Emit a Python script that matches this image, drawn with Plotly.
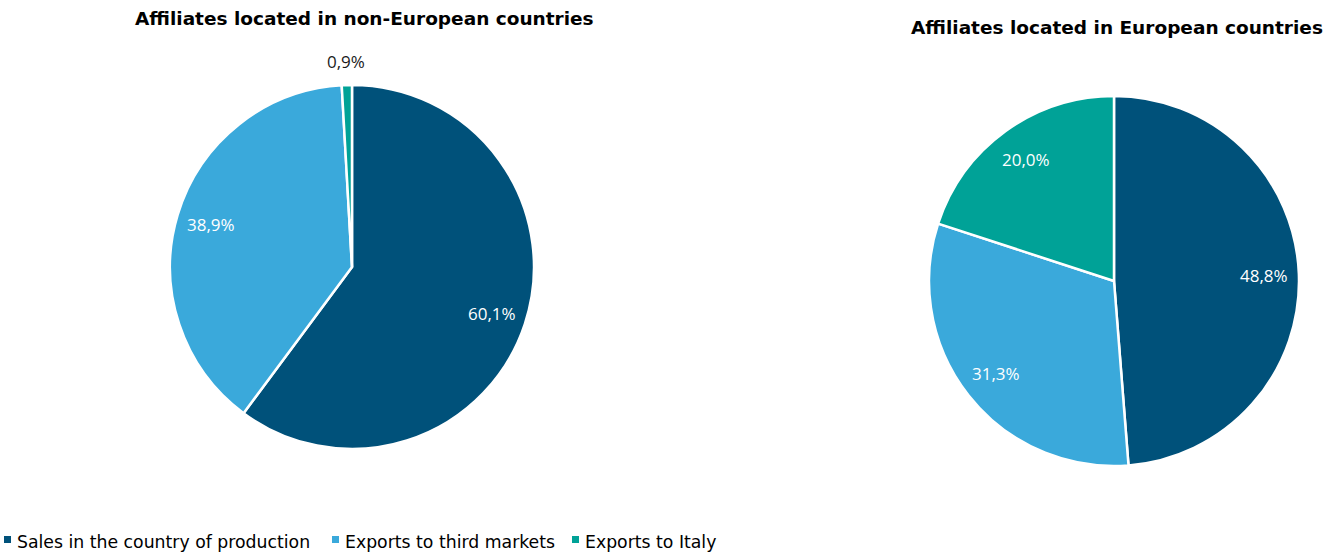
import math
import plotly.graph_objects as go

# Categories and shares (%) for each group of affiliates
categories = ["Sales in the country of production", "Exports to third markets", "Exports to Italy"]
non_european = [60.1, 38.9, 0.9]
european = [48.8, 31.3, 20.0]
titles = ["Affiliates located in non-European countries", "Affiliates located in European countries"]
colors = ["#00517A", "#3AA9DB", "#00A297"]

W, H = 1325, 554

# Pie centres and radii in pixels, plus title placement
pies = [
    dict(values=non_european, cx=352, cy=267, r=182, title=titles[0], tx=364, ty=18,
         outside=[False, False, True]),
    dict(values=european, cx=1114, cy=281, r=185, title=titles[1], tx=1117, ty=27,
         outside=[False, False, False]),
]


def px(x):
    return x / W


def py(y):
    return 1 - y / H


def fmt(v):
    return f"{v:.1f}".replace(".", ",") + "%"


fig = go.Figure()
annotations = []

for p in pies:
    cx, cy, r = p["cx"], p["cy"], p["r"]
    fig.add_trace(go.Pie(
        labels=categories,
        values=p["values"],
        sort=False,
        direction="clockwise",
        rotation=0,
        marker=dict(colors=colors, line=dict(color="white", width=2.5)),
        textinfo="none",
        hoverinfo="label+percent",
        showlegend=False,
        domain=dict(x=[px(cx - r), px(cx + r)], y=[py(cy + r), py(cy - r)]),
    ))
    # value labels at each slice's mid-angle
    total = sum(p["values"])
    cum = 0.0
    for v, out in zip(p["values"], p["outside"]):
        mid = (cum + v / 2) / total * 2 * math.pi
        cum += v
        rr = r * (1.13 if out else 0.81)
        lx = cx + rr * math.sin(mid)
        ly = cy - rr * math.cos(mid)
        annotations.append(dict(
            x=px(lx), y=py(ly), xref="paper", yref="paper",
            text=fmt(v), showarrow=False,
            font=dict(family="Open Sans", size=17, color="#1a1a1a" if out else "white"),
            xanchor="center", yanchor="middle",
        ))
    annotations.append(dict(
        x=px(p["tx"]), y=py(p["ty"]), xref="paper", yref="paper",
        text=f"<b>{p['title']}</b>", showarrow=False,
        font=dict(family="DejaVu Sans", size=18.5, color="black"),
        xanchor="center", yanchor="middle",
    ))

# Legend row along the bottom
legend_x = [4, 332, 572]
shapes = []
for name, col, lx in zip(categories, colors, legend_x):
    shapes.append(dict(type="rect", xref="paper", yref="paper",
                       x0=px(lx), x1=px(lx + 7), y0=py(543), y1=py(536),
                       fillcolor=col, line=dict(width=0)))
    annotations.append(dict(
        x=px(lx + 11), y=py(542), xref="paper", yref="paper",
        text=name, showarrow=False,
        font=dict(family="DejaVu Sans", size=17.3, color="black"),
        xanchor="left", yanchor="middle",
    ))

fig.update_layout(
    width=W, height=H,
    margin=dict(l=0, r=0, t=0, b=0),
    paper_bgcolor="white", plot_bgcolor="white",
    annotations=annotations, shapes=shapes,
)

fig.write_html("out.html")
